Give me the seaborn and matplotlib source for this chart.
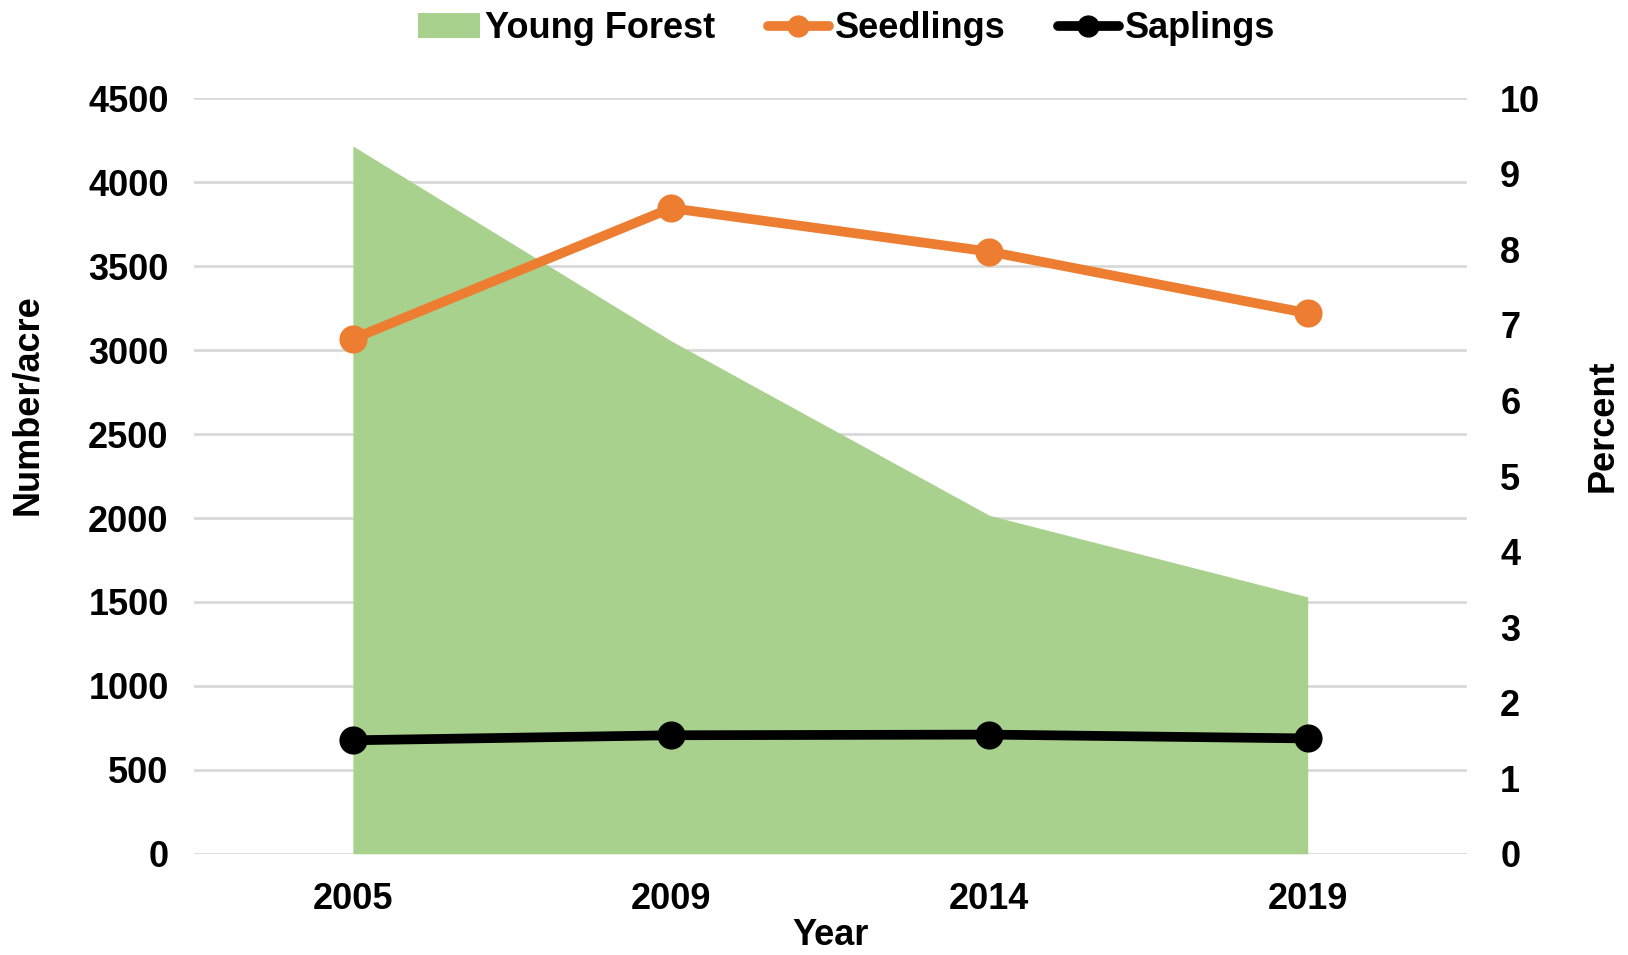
import matplotlib
matplotlib.use("Agg")
import matplotlib.pyplot as plt
from matplotlib.patches import Patch
from matplotlib.lines import Line2D
import seaborn as sns
import numpy as np

# Survey years and measurements
years = ["2005", "2009", "2014", "2019"]
young_forest_pct = [9.37, 6.79, 4.48, 3.40]      # percent, right axis
seedlings = [3067, 3846, 3587, 3220]             # number/acre, left axis
saplings = [676, 706, 710, 687]                  # number/acre, left axis

GREEN = "#A9D18E"
ORANGE = "#ED7D31"
BLACK = "#000000"
GRID = "#D9D9D9"

sns.set_theme(style="white")
plt.rcParams["font.family"] = ["Liberation Sans", "DejaVu Sans"]
plt.rcParams["font.weight"] = "bold"
for key in ("text.color", "axes.labelcolor", "xtick.color", "ytick.color"):
    plt.rcParams[key] = "black"

FS = 26

fig = plt.figure(figsize=(16.28, 9.55), dpi=100)
ax = fig.add_axes([0.119, 0.106, 0.782, 0.791])
ax2 = ax.twinx()   # percent scale for the young forest area
ax3 = ax.twinx()   # number/acre scale for the line series, drawn on top

xpos = np.arange(len(years))

# Left axis: ticks and horizontal grid
ax.set_ylim(0, 4500)
ax.set_yticks(np.arange(0, 4501, 500))
ax.yaxis.grid(True, color=GRID, linewidth=2)
ax.set_axisbelow(True)

# Young forest area on the percent axis
ax2.fill_between(xpos, young_forest_pct, 0, color=GREEN, linewidth=0)
ax2.set_ylim(0, 10)
ax2.set_yticks(np.arange(0, 11, 1))

# Line series on a transparent axis sharing the left scale
sns.pointplot(x=years, y=seedlings, ax=ax3, color=ORANGE, markers="o",
              markersize=15, linewidth=7, errorbar=None)
sns.pointplot(x=years, y=saplings, ax=ax3, color=BLACK, markers="o",
              markersize=15, linewidth=7, errorbar=None)
ax3.set_ylim(0, 4500)
ax3.set_yticks([])
ax3.set_ylabel("")
ax3.patch.set_visible(False)

for a in (ax, ax2, ax3):
    a.set_xlim(-0.5, len(years) - 0.5)
    for s in a.spines.values():
        s.set_visible(False)
    a.tick_params(axis="both", length=0, labelsize=FS, colors="black")
    for lab in a.get_xticklabels() + a.get_yticklabels():
        lab.set_fontweight("bold")

ax.set_xticks(xpos)
ax.set_xticklabels(years, fontsize=FS, fontweight="bold")
ax.tick_params(axis="x", pad=20)
ax.tick_params(axis="y", pad=18)
ax2.tick_params(axis="y", pad=24)
ax3.tick_params(axis="x", labelbottom=False)

ax.set_xlabel("Year", fontsize=FS, fontweight="bold", labelpad=1)
ax.set_ylabel("Number/acre", fontsize=FS, fontweight="bold")
ax2.set_ylabel("Percent", fontsize=FS, fontweight="bold")
ax.yaxis.set_label_coords(-0.117, 0.594)
ax2.yaxis.set_label_coords(1.093, 0.567)

handles = [
    Patch(facecolor=GREEN, edgecolor="none", label="Young Forest"),
    Line2D([], [], color=ORANGE, linewidth=7, marker="o", markersize=15, label="Seedlings"),
    Line2D([], [], color=BLACK, linewidth=7, marker="o", markersize=15, label="Saplings"),
]
leg = fig.legend(handles=handles, loc="upper center", bbox_to_anchor=(0.520, 1.022),
                 ncol=3, frameon=False, fontsize=FS, handlelength=1.7,
                 handleheight=0.7, handletextpad=0.15, columnspacing=1.45)
for t in leg.get_texts():
    t.set_fontweight("bold")

fig.savefig("out.png", dpi=100)
